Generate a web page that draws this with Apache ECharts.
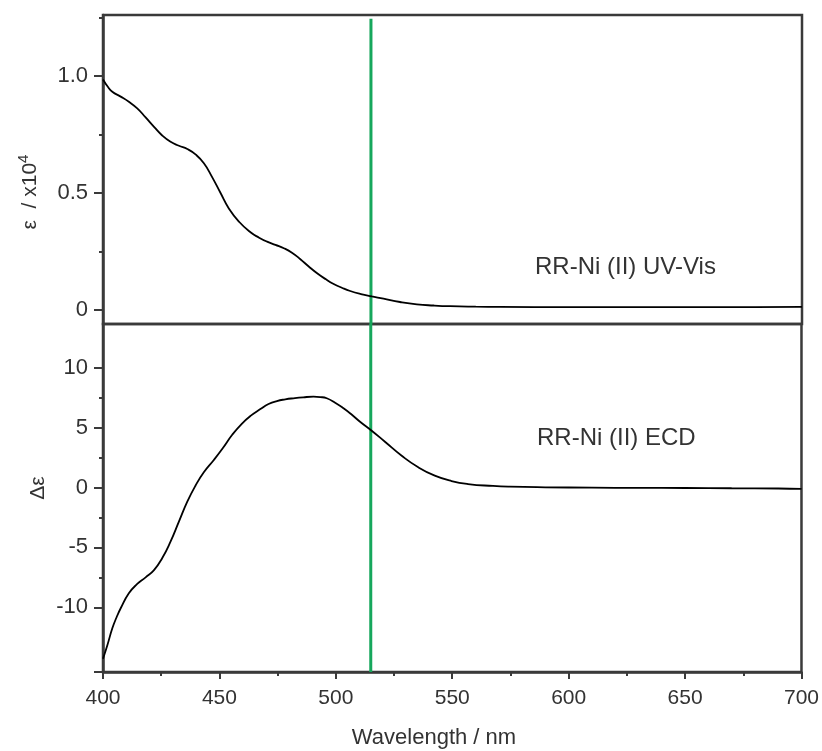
<!DOCTYPE html>
<html>
<head>
<meta charset="utf-8">
<script src="https://cdn.jsdelivr.net/npm/echarts@6/dist/echarts.min.js"></script>
<style>
  html, body { margin: 0; padding: 0; background: #fff; }
  #chart { width: 822px; height: 751px; }
</style>
</head>
<body>
<div id="chart"></div>
<script>
// ---- Data ----
const uvWavelength = [400, 402, 404, 407.6, 411.1, 414.7, 418.3, 421.9, 425.4, 429, 432.6, 436.2, 439.7, 443.3, 446.9, 450.4, 454, 458.5, 463.3, 467, 470.4, 474, 477.6, 481.1, 484.7, 488.3, 491.9, 495.5, 499, 502.5, 506.1, 510.7, 515.4, 520.4, 527.5, 534.7, 541.9, 549, 560, 570.4, 600, 640, 680, 700];
const uvEpsilon    = [0.985, 0.955, 0.933, 0.912, 0.890, 0.862, 0.823, 0.783, 0.746, 0.719, 0.702, 0.688, 0.665, 0.627, 0.567, 0.501, 0.434, 0.376, 0.332, 0.309, 0.292, 0.278, 0.264, 0.245, 0.217, 0.186, 0.157, 0.132, 0.111, 0.095, 0.081, 0.068, 0.058, 0.048, 0.034, 0.024, 0.019, 0.016, 0.014, 0.013, 0.012, 0.012, 0.012, 0.013];

const ecdWavelength = [400, 401.9, 404, 405.8, 407.6, 411.1, 414.7, 418.3, 421.9, 425.4, 429, 432.6, 436.2, 439.7, 443.3, 447.6, 451.5, 455.5, 459.5, 463.5, 467.6, 471.1, 474.7, 478.3, 481.8, 486, 490.4, 493.3, 496.1, 499.7, 503.3, 506.9, 510.4, 515.4, 521.1, 528.3, 535.4, 542.5, 549.7, 556.8, 567.5, 574.7, 590, 610, 630, 650, 670, 690, 700];
const ecdDeltaEps   = [-14.3, -13.15, -11.75, -10.85, -10.08, -8.83, -8.05, -7.50, -6.89, -5.91, -4.52, -2.85, -1.18, 0.15, 1.27, 2.30, 3.30, 4.40, 5.30, 6.00, 6.55, 6.97, 7.22, 7.36, 7.45, 7.53, 7.58, 7.55, 7.45, 7.08, 6.61, 6.07, 5.49, 4.74, 3.82, 2.65, 1.69, 0.99, 0.54, 0.29, 0.13, 0.07, 0.02, -0.01, -0.03, -0.04, -0.06, -0.08, -0.12];

const markerWavelength = 515;

const xTicks = [400, 450, 500, 550, 600, 650, 700];
const uvMajorTicks = [0, 0.5, 1.0];
const uvMinorTicks = [0.25, 0.75, 1.25];
const ecdMajorTicks = [-10, -5, 0, 5, 10];
const ecdMinorTicks = [-7.5, -2.5, 2.5, 7.5];

const uvRange = [-0.06, 1.261];
const ecdRange = [-15.4, 13.65];
const xRange = [400, 700];

// ---- Chart ----
const FONT = '"Liberation Sans", Arial, Helvetica, sans-serif';
const AXIS_COLOR = '#3a3a3a';
const TEXT_COLOR = '#333333';
const GREEN = '#16a75c';

function zip(a, b) { return a.map((v, i) => [v, b[i]]); }

const chart = echarts.init(document.getElementById('chart'), null, { renderer: 'canvas' });

const gridStyle = { show: true, borderColor: AXIS_COLOR, borderWidth: 2.5, backgroundColor: 'transparent' };

const option = {
  animation: false,
  backgroundColor: '#ffffff',
  grid: [
    Object.assign({ left: 103, right: 20, top: 15, height: 309 }, gridStyle),
    Object.assign({ left: 103, right: 20, top: 324, height: 348 }, gridStyle)
  ],
  xAxis: [
    { type: 'value', gridIndex: 0, min: xRange[0], max: xRange[1], show: false },
    {
      type: 'value', gridIndex: 1, min: xRange[0], max: xRange[1], interval: xTicks[1] - xTicks[0],
      axisLine: { show: true, onZero: false, lineStyle: { color: AXIS_COLOR, width: 2.5 } },
      axisTick: { show: true, inside: false, length: 7, lineStyle: { color: AXIS_COLOR, width: 2 } },
      minorTick: { show: true, splitNumber: 2, length: 4, lineStyle: { color: AXIS_COLOR, width: 2 } },
      axisLabel: { show: true, margin: 16, fontSize: 21, color: TEXT_COLOR, fontFamily: FONT },
      splitLine: { show: false }, minorSplitLine: { show: false }
    }
  ],
  yAxis: [
    {
      type: 'value', gridIndex: 0, position: 'left', min: uvRange[0], max: uvRange[1],
      axisLine: { show: true, onZero: false, lineStyle: { color: AXIS_COLOR, width: 2.5 } },
      axisTick: { show: true, inside: false, length: 9, customValues: uvMajorTicks, lineStyle: { color: AXIS_COLOR, width: 2 } },
      axisLabel: { show: true, margin: 15, customValues: uvMajorTicks, fontSize: 22, color: TEXT_COLOR, fontFamily: FONT,
        formatter: v => (Math.abs(v) < 1e-9 ? '0' : Number(v).toFixed(1)) },
      splitLine: { show: false }
    },
    {
      type: 'value', gridIndex: 0, position: 'left', min: uvRange[0], max: uvRange[1],
      axisLine: { show: false },
      axisTick: { show: true, inside: false, length: 4, customValues: uvMinorTicks, lineStyle: { color: AXIS_COLOR, width: 2 } },
      axisLabel: { show: false },
      splitLine: { show: false }
    },
    {
      type: 'value', gridIndex: 1, position: 'left', min: ecdRange[0], max: ecdRange[1],
      axisLine: { show: true, onZero: false, lineStyle: { color: AXIS_COLOR, width: 2.5 } },
      axisTick: { show: true, inside: false, length: 9, customValues: [ecdRange[0]].concat(ecdMajorTicks), lineStyle: { color: AXIS_COLOR, width: 2 } },
      axisLabel: { show: true, margin: 15, customValues: ecdMajorTicks, fontSize: 22, color: TEXT_COLOR, fontFamily: FONT },
      splitLine: { show: false }
    },
    {
      type: 'value', gridIndex: 1, position: 'left', min: ecdRange[0], max: ecdRange[1],
      axisLine: { show: false },
      axisTick: { show: true, inside: false, length: 4, customValues: ecdMinorTicks, lineStyle: { color: AXIS_COLOR, width: 2 } },
      axisLabel: { show: false },
      splitLine: { show: false }
    }
  ],
  series: [
    {
      name: 'marker-top', type: 'line', xAxisIndex: 0, yAxisIndex: 0, z: 1,
      data: [[markerWavelength, 1.245], [markerWavelength, uvRange[0]]],
      showSymbol: false, symbol: 'none', silent: true,
      lineStyle: { color: GREEN, width: 3 }
    },
    {
      name: 'marker-bottom', type: 'line', xAxisIndex: 1, yAxisIndex: 2, z: 1,
      data: [[markerWavelength, ecdRange[1]], [markerWavelength, ecdRange[0]]],
      showSymbol: false, symbol: 'none', silent: true,
      lineStyle: { color: GREEN, width: 3 }
    },
    {
      name: 'RR-Ni (II) UV-Vis', type: 'line', xAxisIndex: 0, yAxisIndex: 0, z: 3,
      data: zip(uvWavelength, uvEpsilon),
      showSymbol: false, symbol: 'none', smooth: 0.5,
      lineStyle: { color: '#000000', width: 1.8 }
    },
    {
      name: 'RR-Ni (II) ECD', type: 'line', xAxisIndex: 1, yAxisIndex: 2, z: 3,
      data: zip(ecdWavelength, ecdDeltaEps),
      showSymbol: false, symbol: 'none', smooth: 0.5,
      lineStyle: { color: '#000000', width: 1.8 }
    }
  ],
  graphic: [
    {
      type: 'text', x: 535, y: 267,
      style: { text: 'RR-Ni (II) UV-Vis', fill: TEXT_COLOR, font: '24px ' + FONT,
        textAlign: 'left', textVerticalAlign: 'middle', align: 'left', verticalAlign: 'middle' }
    },
    {
      type: 'text', x: 537, y: 438,
      style: { text: 'RR-Ni (II) ECD', fill: TEXT_COLOR, font: '24px ' + FONT,
        textAlign: 'left', textVerticalAlign: 'middle', align: 'left', verticalAlign: 'middle' }
    },
    {
      type: 'text', x: 434, y: 738,
      style: { text: 'Wavelength / nm', fill: TEXT_COLOR, font: '22px ' + FONT,
        textAlign: 'center', textVerticalAlign: 'middle', align: 'center', verticalAlign: 'middle' }
    },
    {
      type: 'text', x: 30, y: 192, rotation: Math.PI / 2,
      style: {
        text: 'ε  / x10{sup|4}', fill: TEXT_COLOR, font: '21px ' + FONT,
        textAlign: 'center', textVerticalAlign: 'middle', align: 'center', verticalAlign: 'middle',
        rich: {
          sup: { fontSize: 15, fontFamily: FONT, fill: TEXT_COLOR, color: TEXT_COLOR, verticalAlign: 'top', lineHeight: 28 }
        }
      }
    },
    {
      type: 'text', x: 38, y: 488, rotation: Math.PI / 2,
      style: { text: 'Δε', fill: TEXT_COLOR, font: '21px ' + FONT,
        textAlign: 'center', textVerticalAlign: 'middle', align: 'center', verticalAlign: 'middle' }
    }
  ]
};

chart.setOption(option);
</script>
</body>
</html>
